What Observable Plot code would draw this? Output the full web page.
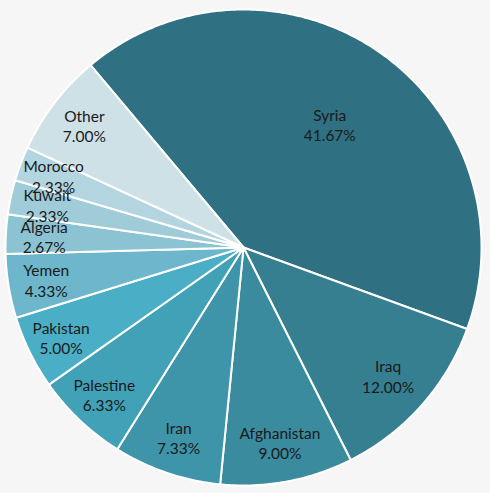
<!DOCTYPE html>
<html><head><meta charset="utf-8">
<script src="https://cdn.jsdelivr.net/npm/d3@7"></script>
<script src="https://cdn.jsdelivr.net/npm/@observablehq/plot@0.6"></script>
<style>html,body{margin:0;padding:0;background:#f6f6f6;overflow:hidden}</style>
</head><body><div id="chart"></div>
<script>
const countries = ["Syria","Iraq","Afghanistan","Iran","Palestine","Pakistan","Yemen","Algeria","Kuwait","Morocco","Other"];
const shares = [41.67,12.00,9.00,7.33,6.33,5.00,4.33,2.67,2.33,2.33,7.00];
const colors = ["#2f7082","#367f91","#3b8b9f","#3e95aa","#41a1b7","#4aaec6","#6db6cb","#8cc3d3","#a0cbd9","#b3d5e0","#cde1e7"];

const startDeg = -40;
const W = 490, H = 493, cx = 243, cy = 247, R = 238;

const total = d3.sum(shares);
let cum = 0;
const slices = countries.map((c, i) => {
  const a0 = startDeg + cum / total * 360;
  cum += shares[i];
  const a1 = startDeg + cum / total * 360;
  return {c, v: shares[i], a0, a1};
});
const pts = [];
for (const s of slices) {
  pts.push({c: s.c, x: 0, y: 0});
  const n = Math.max(2, Math.ceil((s.a1 - s.a0) / 0.5));
  for (let k = 0; k <= n; k++) {
    const a = (s.a0 + (s.a1 - s.a0) * k / n) * Math.PI / 180;
    pts.push({c: s.c, x: Math.sin(a), y: Math.cos(a)});
  }
}
const labels = slices.map(s => {
  const m = (s.a0 + s.a1) / 2 * Math.PI / 180;
  const r = 0.89 - 0.0062 * s.v - 0.035 * Math.pow(Math.abs(Math.cos(m - Math.PI / 2 * 3 - 0.1)), 12);
  return {x: r * Math.sin(m), y: r * Math.cos(m), t: s.c + "\n" + s.v.toFixed(2) + "%"};
});

const chart = Plot.plot({
  width: W, height: H, margin: 0,
  style: {background: "transparent", fontFamily: "Lato, 'Open Sans', sans-serif"},
  x: {domain: [-1, 1], range: [cx - R, cx + R], axis: null},
  y: {domain: [-1, 1], range: [cy + R, cy - R], axis: null},
  color: {domain: countries, range: colors},
  marks: [
    Plot.line(pts, {x: "x", y: "y", z: "c", fill: "c", stroke: "white", strokeWidth: 2, curve: "linear-closed", strokeLinejoin: "round"}),
    Plot.text(labels, {x: "x", y: "y", text: "t", fontSize: 15.5, lineHeight: 1.3, fill: "#1a1a1a"})
  ]
});
document.getElementById("chart").appendChild(chart);
</script>
</body></html>
